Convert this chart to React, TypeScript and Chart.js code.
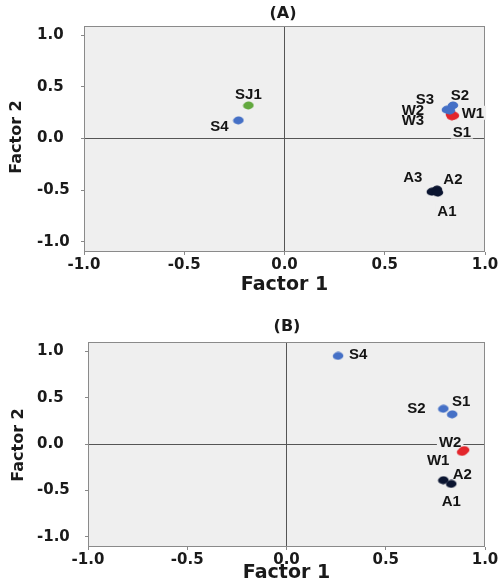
import React, { useEffect, useRef } from 'react';
import { Chart, registerables } from 'chart.js';

Chart.register(...registerables);

// ---------- shared axis ticks ----------
const AXIS_TICKS = [-1, -0.5, 0, 0.5, 1];

// ---------- Panel (A) data ----------
const A_SJ_NAMES = ['SJ1'];
const A_SJ_F1 = [-0.18];
const A_SJ_F2 = [0.32];

const A_S_NAMES = ['S4', 'S3', 'S2', 'S1'];
const A_S_F1 = [-0.23, 0.81, 0.84, 0.825];
const A_S_F2 = [0.175, 0.28, 0.32, 0.27];

const A_W_NAMES = ['W1', 'W2', 'W3'];
const A_W_F1 = [0.845, 0.83, 0.835];
const A_W_F2 = [0.22, 0.235, 0.215];

const A_A_NAMES = ['A3', 'A2', 'A1'];
const A_A_F1 = [0.735, 0.76, 0.765];
const A_A_F2 = [-0.515, -0.495, -0.525];

// ---------- Panel (B) data ----------
const B_S_NAMES = ['S4', 'S2', 'S1'];
const B_S_F1 = [0.26, 0.79, 0.835];
const B_S_F2 = [0.95, 0.38, 0.32];

const B_W_NAMES = ['W2', 'W1'];
const B_W_F1 = [0.895, 0.885];
const B_W_F2 = [-0.065, -0.085];

const B_A_NAMES = ['A2', 'A1'];
const B_A_F1 = [0.83, 0.79];
const B_A_F2 = [-0.43, -0.39];

// ---------- styling / layout (not data) ----------
const COLORS = { green: '#62a83e', blue: '#4570c6', red: '#e3262c', black: '#0b1530' };
const FONT = '"DejaVu Sans", Verdana, sans-serif';
const PLOT_BG = '#efefef';

const A_LABEL_OFFSETS: Record<string, [number, number]> = {
  SJ1: [0, -12], S4: [-19, 5], S3: [-22, -11], S2: [7, -11], S1: [12, 21],
  W1: [19, -3], W2: [-38, -4], W3: [-39, 4], A3: [-19, -15], A2: [16, -11], A1: [9, 18],
};
const B_LABEL_OFFSETS: Record<string, [number, number]> = {
  S4: [20, -2], S2: [-27, -1], S1: [9, -13], W2: [-14, -8], W1: [-24, 8], A2: [11, -10], A1: [8, 21],
};

function buildPoints(names: string[], f1: number[], f2: number[]) {
  return names.map((n, i) => ({ x: f1[i], y: f2[i], name: n }));
}

function makeDot(color: string) {
  const c = document.createElement('canvas');
  c.width = 12;
  c.height = 9;
  const g = c.getContext('2d')!;
  g.fillStyle = color;
  g.beginPath();
  g.ellipse(6, 4.5, 5.3, 3.9, -0.1, 0, Math.PI * 2);
  g.fill();
  return c;
}

const decoPlugin = {
  id: 'panelDeco',
  beforeDraw(chart: any) {
    const { ctx, chartArea: a } = chart;
    ctx.save();
    ctx.fillStyle = PLOT_BG;
    ctx.fillRect(a.left, a.top, a.right - a.left, a.bottom - a.top);
    ctx.restore();
  },
  beforeDatasetsDraw(chart: any, _args: any, opts: any) {
    const { ctx, chartArea: a } = chart;
    ctx.save();
    ctx.strokeStyle = '#8a8a8a';
    ctx.lineWidth = 1;
    ctx.strokeRect(a.left + 0.5, a.top + 0.5, a.right - a.left - 1, a.bottom - a.top - 1);
    // point labels: boxes first, then texts
    ctx.font = 'bold 15px "Liberation Sans", Arial, sans-serif';
    ctx.textAlign = 'center';
    ctx.textBaseline = 'middle';
    const offsets = opts.offsets || {};
    const items: { name: string; x: number; y: number }[] = [];
    chart.data.datasets.forEach((ds: any, di: number) => {
      const meta = chart.getDatasetMeta(di);
      meta.data.forEach((el: any, i: number) => {
        const name = ds.data[i].name;
        const off = offsets[name] || [0, -12];
        items.push({ name, x: el.x + off[0], y: el.y + off[1] });
      });
    });
    ctx.fillStyle = PLOT_BG;
    items.forEach((it) => {
      const w = ctx.measureText(it.name).width;
      ctx.fillRect(it.x - w / 2 - 2, it.y - 7, w + 4, 14);
    });
    ctx.fillStyle = '#141414';
    items.forEach((it) => ctx.fillText(it.name, it.x, it.y + 1));
    ctx.restore();
  },
  afterDraw(chart: any, _args: any, opts: any) {
    const { ctx } = chart;
    ctx.save();
    ctx.fillStyle = '#1a1a1a';
    ctx.textAlign = 'center';
    ctx.textBaseline = 'middle';
    ctx.font = `bold 16px ${FONT}`;
    ctx.fillText(opts.title, opts.titleX, opts.titleY);
    ctx.translate(opts.yTitleX, opts.yTitleY);
    ctx.rotate(-Math.PI / 2);
    ctx.font = `bold 16px ${FONT}`;
    ctx.fillText('Factor 2', 0, 0);
    ctx.restore();
  },
};

type Panel = {
  width: number;
  height: number;
  padTop: number;
  yMin: number;
  yMax: number;
  yWidth: number;
  xHeight: number;
  title: string;
  titleX: number;
  titleY: number;
  yTitleX: number;
  yTitleY: number;
  offsets: Record<string, [number, number]>;
  series: { names: string[]; f1: number[]; f2: number[]; color: string }[];
};

const PANEL_A: Panel = {
  width: 501, height: 296, padTop: 26, yMin: -1.1, yMax: 1.09, yWidth: 47, xHeight: 43,
  title: '(A)', titleX: 283, titleY: 14, yTitleX: 17, yTitleY: 137, offsets: A_LABEL_OFFSETS,
  series: [
    { names: A_SJ_NAMES, f1: A_SJ_F1, f2: A_SJ_F2, color: COLORS.green },
    { names: A_S_NAMES, f1: A_S_F1, f2: A_S_F2, color: COLORS.blue },
    { names: A_W_NAMES, f1: A_W_F1, f2: A_W_F2, color: COLORS.red },
    { names: A_A_NAMES, f1: A_A_F1, f2: A_A_F2, color: COLORS.black },
  ],
};

const PANEL_B: Panel = {
  width: 501, height: 288, padTop: 46, yMin: -1.11, yMax: 1.1, yWidth: 51, xHeight: 36,
  title: '(B)', titleX: 287, titleY: 31, yTitleX: 19, yTitleY: 149, offsets: B_LABEL_OFFSETS,
  series: [
    { names: B_S_NAMES, f1: B_S_F1, f2: B_S_F2, color: COLORS.blue },
    { names: B_W_NAMES, f1: B_W_F1, f2: B_W_F2, color: COLORS.red },
    { names: B_A_NAMES, f1: B_A_F1, f2: B_A_F2, color: COLORS.black },
  ],
};

function ScatterPanel({ panel }: { panel: Panel }) {
  const ref = useRef<HTMLCanvasElement | null>(null);
  useEffect(() => {
    if (!ref.current) return;
    const tickFont = { family: FONT, size: 15, weight: 'bold' as const };
    const gridColor = (c: any) => (c.tick && c.tick.value === 0 ? '#555555' : 'rgba(0,0,0,0)');
    const chart = new Chart(ref.current, {
      type: 'scatter',
      data: {
        datasets: panel.series.map((s) => ({
          data: buildPoints(s.names, s.f1, s.f2),
          pointStyle: makeDot(s.color),
          pointRadius: 5,
          backgroundColor: s.color,
          borderColor: s.color,
        })),
      } as any,
      options: {
        responsive: false,
        animation: false,
        devicePixelRatio: 1,
        layout: { padding: { top: panel.padTop, left: 37, right: 16, bottom: 1 } },
        plugins: {
          legend: { display: false },
          tooltip: { enabled: false },
          title: { display: false },
          panelDeco: {
            title: panel.title, titleX: panel.titleX, titleY: panel.titleY,
            yTitleX: panel.yTitleX, yTitleY: panel.yTitleY, offsets: panel.offsets,
          },
        } as any,
        scales: {
          x: {
            type: 'linear',
            min: -1,
            max: 1,
            afterBuildTicks: (ax: any) => { ax.ticks = AXIS_TICKS.map((v) => ({ value: v })); },
            afterFit: (s: any) => { s.height = panel.xHeight; },
            grid: { color: gridColor, tickColor: '#888888', tickLength: 3, lineWidth: 1 },
            border: { display: false },
            ticks: { font: tickFont, color: '#1a1a1a', padding: 1, maxRotation: 0, autoSkip: false, callback: (v: any) => Number(v).toFixed(1) },
            title: { display: true, text: 'Factor 1', color: '#1a1a1a', font: { family: FONT, size: 19, weight: 'bold', lineHeight: 1 }, padding: { top: 0, bottom: 0 } },
          },
          y: {
            type: 'linear',
            min: panel.yMin,
            max: panel.yMax,
            afterBuildTicks: (ax: any) => { ax.ticks = AXIS_TICKS.map((v) => ({ value: v })); },
            afterFit: (s: any) => { s.width = panel.yWidth; },
            grid: { color: gridColor, tickColor: '#888888', tickLength: 3, lineWidth: 1 },
            border: { display: false },
            ticks: { font: tickFont, color: '#1a1a1a', padding: 2, crossAlign: 'far', autoSkip: false, callback: (v: any) => Number(v).toFixed(1) },
            title: { display: false },
          },
        },
      } as any,
      plugins: [decoPlugin as any],
    });
    return () => chart.destroy();
  }, [panel]);
  return <canvas ref={ref} width={panel.width} height={panel.height} style={{ display: 'block' }} />;
}

export default function App() {
  useEffect(() => {
    document.body.style.margin = '0';
    document.body.style.background = '#ffffff';
  }, []);
  return (
    <div style={{ width: 501, background: '#fff' }}>
      <ScatterPanel panel={PANEL_A} />
      <ScatterPanel panel={PANEL_B} />
    </div>
  );
}
